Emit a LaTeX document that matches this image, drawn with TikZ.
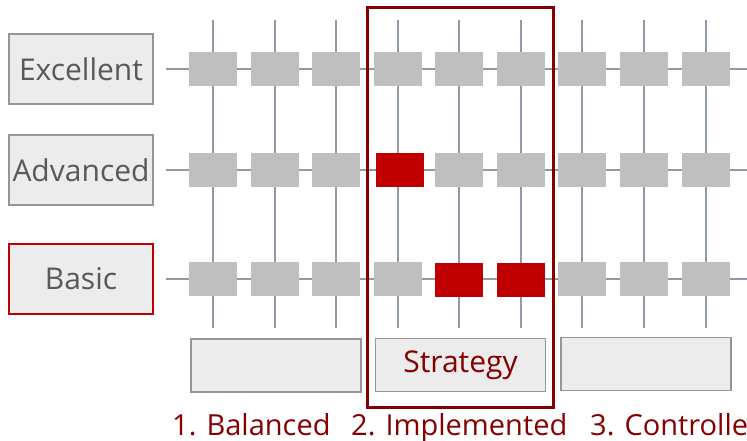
\documentclass[tikz,border=0pt]{standalone}
\usepackage{fontspec}
\setmainfont{Open Sans}
\definecolor{gridline}{RGB}{143,154,168}
\definecolor{cellgray}{RGB}{191,191,191}
\definecolor{cellred}{RGB}{192,0,0}
\definecolor{darkred}{RGB}{134,0,0}
\definecolor{boxfill}{RGB}{236,236,236}
\definecolor{boxline}{RGB}{150,150,150}
\definecolor{textgray}{RGB}{89,89,89}
\tikzset{
  levelbox/.style={draw=boxline, line width=1.2pt, fill=boxfill, minimum width=144pt, minimum height=70pt, inner sep=0pt, text=textgray, font=\fontsize{30}{31}\selectfont},
  cell/.style={fill=cellgray, minimum width=48pt, minimum height=34pt, inner sep=0pt},
  redcell/.style={fill=cellred, minimum width=48pt, minimum height=34pt, inner sep=0pt},
  gline/.style={draw=gridline, line width=2.2pt},
  phasebox/.style={draw=boxline, line width=1.2pt, fill=boxfill, minimum width=170pt, minimum height=53pt, inner sep=0pt, font=\fontsize{30}{31}\selectfont},
  phaselabel/.style={text=darkred, anchor=base west, inner sep=0pt, font=\fontsize{29}{30}\selectfont},
}
\begin{document}
\begin{tikzpicture}[x=1pt,y=-1pt]
\useasboundingbox (0,0) rectangle (747,441);
\clip (0,0) rectangle (747,441);
% level boxes
\node[levelbox] (exc) at (81,69) {Excellent};
\node[levelbox] (adv) at (81,170) {Advanced};
\node[levelbox, draw=cellred] (bas) at (81,279) {Basic};
% grid lines
\foreach \i/\x in {1/213,2/275,3/336,4/398,5/459,6/521,7/582,8/644,9/706}{
  \coordinate (vt\i) at (\x,20);
  \coordinate (vb\i) at (\x,328);
  \draw[gline] (vt\i) -- (vb\i);
}
\foreach \r/\y in {1/69,2/170,3/279}{
  \coordinate (hl\r) at (166,\y);
  \coordinate (hr\r) at (760,\y);
  \draw[gline] (hl\r) -- (hr\r);
}
% cells
\foreach \i/\x in {1/213,2/275,3/336,4/398,5/459,6/521,7/582,8/644,9/706}{
  \node[cell] (c1\i) at (\x,69) {};
}
\foreach \i/\x in {1/213,2/275,3/336,5/459,6/521,7/582,8/644,9/706}{
  \node[cell] (c2\i) at (\x,170) {};
}
\node[redcell] (c24) at (400,170) {};
\foreach \i/\x in {1/213,2/275,3/336,4/398,7/582,8/644,9/706}{
  \node[cell] (c3\i) at (\x,279) {};
}
\node[redcell] (c35) at (459,280) {};
\node[redcell] (c36) at (521,280) {};
% phase boxes
\node[phasebox] (p1) at (276,365.5) {};
\node[phasebox, text=darkred] (p2) at (460.5,365) {Strategy};
\node[phasebox] (p3) at (646,364) {};
% highlight frame
\node[draw=darkred, line width=3pt, minimum width=186pt, minimum height=399pt, inner sep=0pt] (frame) at (460,207.5) {};
% phase labels
\node[phaselabel] (l1) at (172,435) {1. Balanced};
\node[phaselabel] (l2) at (351,435) {2. Implemented};
\node[phaselabel] (l3) at (590,435) {3. Controlle};
\end{tikzpicture}
\end{document}
